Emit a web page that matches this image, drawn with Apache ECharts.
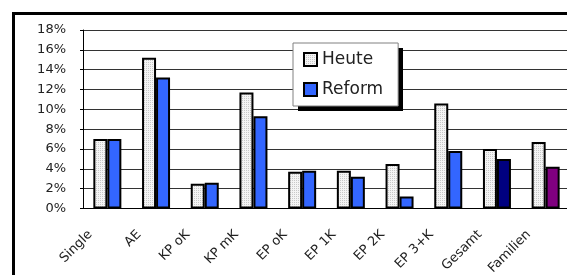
<!DOCTYPE html>
<html>
<head>
<meta charset="utf-8">
<script src="https://cdn.jsdelivr.net/npm/echarts@6/dist/echarts.min.js"></script>
<style>
html, body { margin: 0; padding: 0; background: #fff; }
#chart { width: 567px; height: 275px; }
</style>
</head>
<body>
<div id="chart"></div>
<script>
// Daten
var categories = ['Single', 'AE', 'KP oK', 'KP mK', 'EP oK', 'EP 1K', 'EP 2K', 'EP 3+K', 'Gesamt', 'Familien'];
var heute = [7.0, 15.2, 2.5, 11.7, 3.7, 3.8, 4.5, 10.6, 6.0, 6.7];
var reform = [7.0, 13.2, 2.6, 9.3, 3.8, 3.2, 1.2, 5.8, 5.0, 4.2];
var seriesNames = ['Heute', 'Reform'];

// punktiertes Muster für "Heute"
function dotPattern() {
    var c = document.createElement('canvas');
    c.width = 2;
    c.height = 2;
    var ctx = c.getContext('2d');
    ctx.fillStyle = '#f4f4f4';
    ctx.fillRect(0, 0, 2, 2);
    ctx.fillStyle = '#c8c8c8';
    ctx.fillRect(0, 0, 1, 1);
    return c;
}

var blue = '#3366ff';
var reformData = reform.map(function (v, i) {
    var col = blue;
    if (categories[i] == 'Gesamt') col = '#000080';
    if (categories[i] == 'Familien') col = '#800080';
    return {value: v, itemStyle: {color: col}};
});

var myChart = echarts.init(document.getElementById('chart'));

var option = {
    animation: false,
    textStyle: {fontFamily: 'DejaVu Sans'},
    grid: {left: 83, top: 30, width: 487, height: 178.5, containLabel: false, outerBoundsMode: 'none'},
    graphic: [
        {
            type: 'rect', z: -10,
            shape: {x: 13.5, y: 13.5, width: 600, height: 300},
            style: {fill: 'none', stroke: '#000', lineWidth: 3}
        },
        {
            type: 'rect', z: 50,
            shape: {x: 298, y: 48, width: 105, height: 63},
            style: {fill: '#000'}
        }
    ],
    legend: {
        orient: 'vertical',
        left: 293,
        top: 43,
        z: 60,
        padding: [8, 15, 8, 10],
        itemWidth: 13,
        itemHeight: 13,
        itemGap: 13,
        icon: 'rect',
        backgroundColor: '#fff',
        borderColor: '#808080',
        borderWidth: 1,
        textStyle: {fontSize: 17, lineHeight: 17, color: '#222', fontFamily: 'DejaVu Sans'},
        data: seriesNames
    },
    xAxis: {
        type: 'category',
        data: categories,
        axisLine: {lineStyle: {color: '#000', width: 1}},
        axisTick: {length: 4, lineStyle: {color: '#000'}},
        axisLabel: {
            rotate: 45,
            margin: 7,
            padding: [0, 24, 0, 0],
            fontSize: 13,
            color: '#222'
        }
    },
    yAxis: {
        type: 'value',
        min: 0,
        max: 18,
        interval: 2,
        axisLine: {show: true, lineStyle: {color: '#000'}},
        axisTick: {show: true, length: 3, lineStyle: {color: '#000'}},
        axisLabel: {
            fontSize: 13,
            color: '#222',
            margin: 17,
            formatter: function (v) { return v + '%'; }
        },
        splitLine: {lineStyle: {color: '#333', width: 1}}
    },
    series: [
        {
            name: seriesNames[0],
            type: 'bar',
            data: heute,
            barWidth: 14,
            barGap: '0%',
            itemStyle: {
                color: {image: dotPattern(), repeat: 'repeat'},
                borderColor: '#000',
                borderWidth: 2
            }
        },
        {
            name: seriesNames[1],
            type: 'bar',
            data: reformData,
            barWidth: 14,
            barGap: '0%',
            itemStyle: {
                color: blue,
                borderColor: '#000',
                borderWidth: 2
            }
        }
    ]
};

myChart.setOption(option);
</script>
</body>
</html>
